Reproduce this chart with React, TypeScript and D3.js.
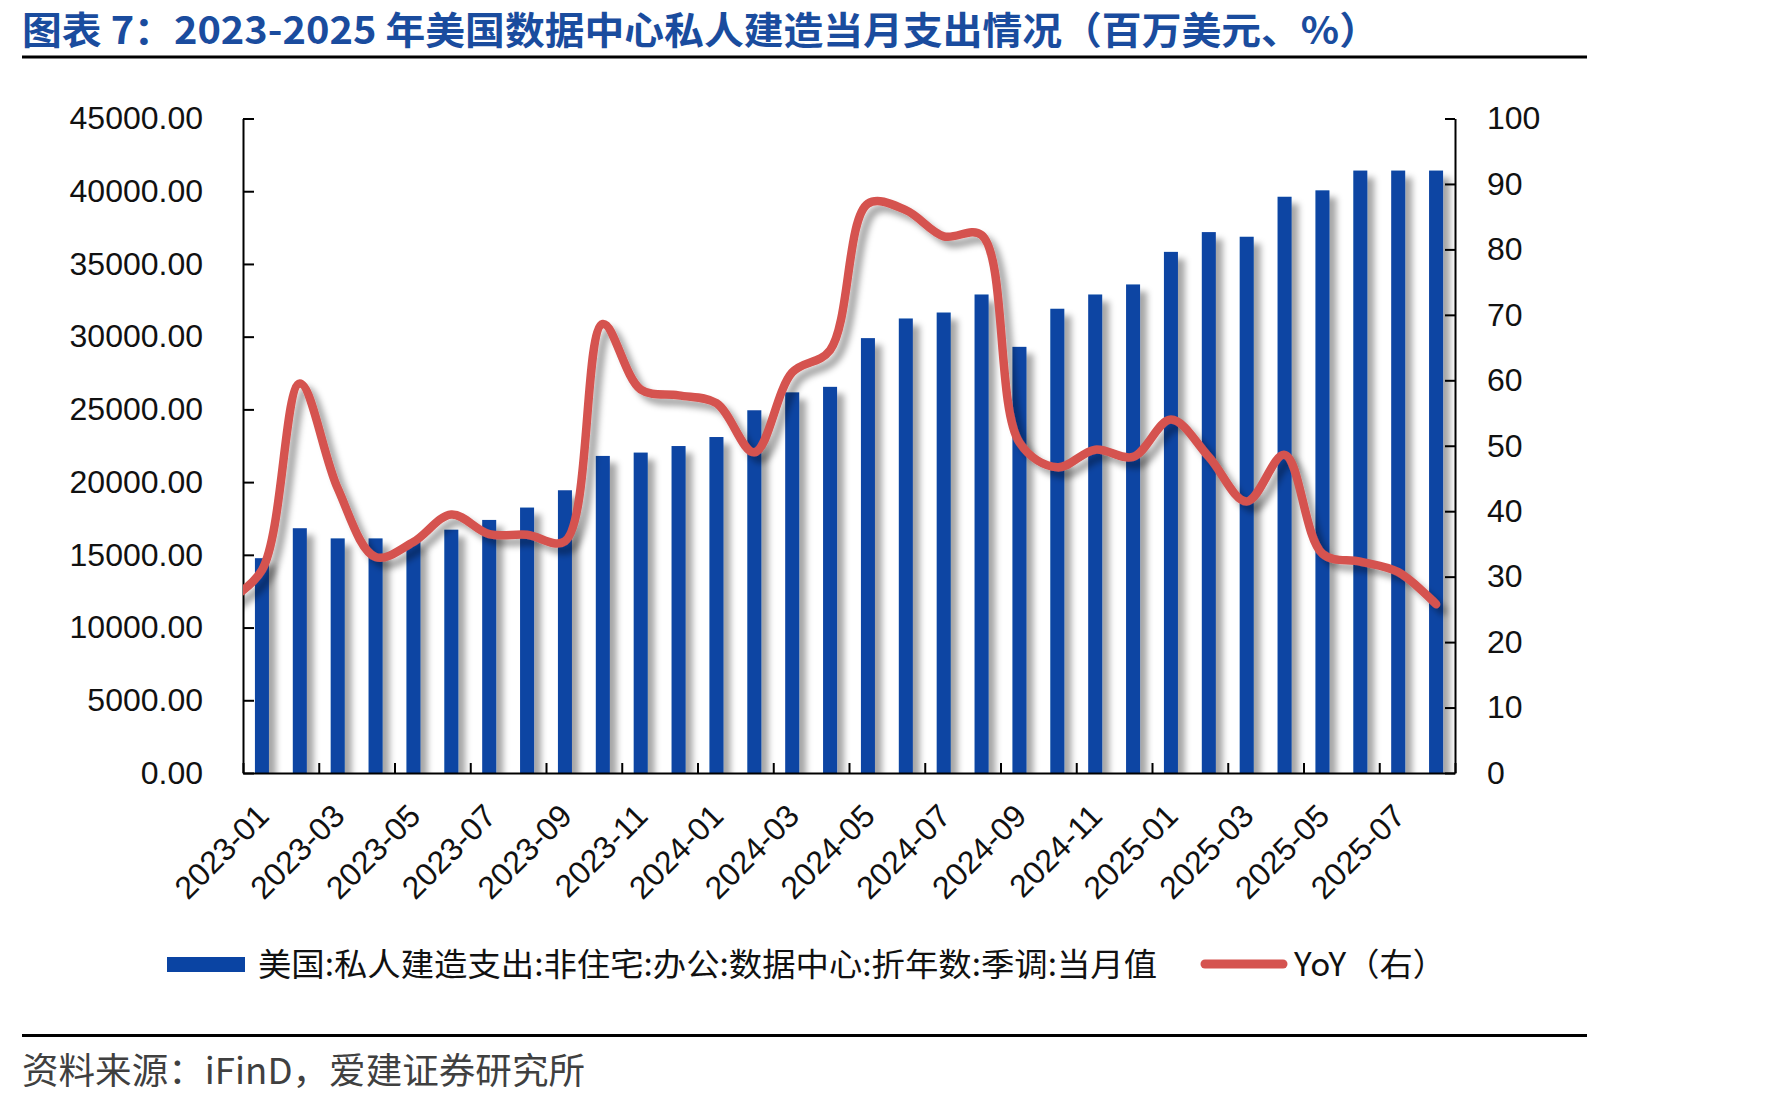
import React, { useEffect, useRef } from 'react';
import * as d3 from 'd3';

// Monthly categories, 2023-01 .. 2025-08
const months = [
  '2023-01', '2023-02', '2023-03', '2023-04', '2023-05', '2023-06', '2023-07', '2023-08',
  '2023-09', '2023-10', '2023-11', '2023-12', '2024-01', '2024-02', '2024-03', '2024-04',
  '2024-05', '2024-06', '2024-07', '2024-08', '2024-09', '2024-10', '2024-11', '2024-12',
  '2025-01', '2025-02', '2025-03', '2025-04', '2025-05', '2025-06', '2025-07', '2025-08',
];

// 数据中心私人建造支出，折年数，季调（百万美元）
const spending = [
  14770, 16830, 16130, 16130, 15900, 16730, 17400, 18250,
  19440, 21800, 22030, 22480, 23100, 24940, 26170, 26550,
  29900, 31250, 31660, 32900, 29300, 31920, 32900, 33590,
  35830, 37190, 36870, 39620, 40060, 41420, 41420, 41420,
];

// 同比（%）
const yoy = [
  31.0, 59.5, 43.5, 33.0, 35.3, 39.5, 36.5, 36.4,
  35.4, 68.6, 58.6, 57.7, 56.5, 49.0, 61.2, 64.6,
  87.0, 86.0, 82.0, 82.2, 50.5, 46.7, 49.4, 48.3,
  54.0, 48.3, 41.5, 48.6, 33.5, 32.3, 30.7, 25.8,
];
// 2022-12 YoY, only its tail enters the plot at the left edge
const yoyPrevMonth = 26.0;

const leftTicks = [0, 5000, 10000, 15000, 20000, 25000, 30000, 35000, 40000, 45000];
const rightTicks = [0, 10, 20, 30, 40, 50, 60, 70, 80, 90, 100];

const titleText = '图表 7：2023-2025 年美国数据中心私人建造当月支出情况（百万美元、%）';
const barSeriesName = '美国:私人建造支出:非住宅:办公:数据中心:折年数:季调:当月值';
const lineSeriesName = 'YoY（右）';
const sourceText = '资料来源：iFinD，爱建证券研究所';

const W = 1772;
const H = 1105;
const BLUE = '#0A44A3';
const RED = '#D5534F';
const NUM_FONT = '"Liberation Sans", Arial, sans-serif';
const CJK_FONT = '"Noto Sans CJK SC", "Noto Sans", sans-serif';

export default function App() {
  const svgRef = useRef<SVGSVGElement | null>(null);

  useEffect(() => {
    if (!svgRef.current) return;
    const svg = d3.select(svgRef.current);
    svg.selectAll('*').remove();

    const plot = { left: 243, right: 1455, top: 118.5, bottom: 773 };

    const x = d3
      .scaleBand()
      .domain(months)
      .range([plot.left, plot.right])
      .paddingInner(0.63)
      .paddingOuter(0.315);
    const step = x.step();
    const cx = (m: string) => x(m)! + x.bandwidth() / 2;

    const yL = d3.scaleLinear().domain([0, 45000]).range([plot.bottom, plot.top]);
    const yR = d3.scaleLinear().domain([0, 100]).range([plot.bottom, plot.top]);

    const defs = svg.append('defs');
    const f = defs
      .append('filter')
      .attr('id', 'shade')
      .attr('x', '-10%')
      .attr('y', '-10%')
      .attr('width', '130%')
      .attr('height', '130%');
    f.append('feDropShadow')
      .attr('dx', 7)
      .attr('dy', 7)
      .attr('stdDeviation', 3)
      .attr('flood-color', '#000')
      .attr('flood-opacity', 0.35);
    defs
      .append('clipPath')
      .attr('id', 'plotClip')
      .append('rect')
      .attr('x', plot.left)
      .attr('y', plot.top - 20)
      .attr('width', plot.right - plot.left)
      .attr('height', plot.bottom - plot.top + 20);

    svg.append('rect').attr('width', W).attr('height', H).attr('fill', '#fff');

    // title and rules
    svg
      .append('text')
      .attr('x', 22)
      .attr('y', 44)
      .attr('font-family', CJK_FONT)
      .attr('font-weight', 700)
      .attr('font-size', 38)
      .attr('fill', '#1A4C9E')
      .attr('textLength', 1357)
      .attr('lengthAdjust', 'spacingAndGlyphs')
      .text(titleText);
    svg.append('rect').attr('x', 22).attr('y', 55.5).attr('width', 1565).attr('height', 3).attr('fill', '#000');
    svg.append('rect').attr('x', 22).attr('y', 1034).attr('width', 1565).attr('height', 3).attr('fill', '#000');
    svg
      .append('text')
      .attr('x', 22)
      .attr('y', 1084)
      .attr('font-family', CJK_FONT)
      .attr('font-size', 36)
      .attr('fill', '#404040')
      .attr('textLength', 563)
      .attr('lengthAdjust', 'spacingAndGlyphs')
      .text(sourceText);

    // bars
    svg
      .append('g')
      .attr('clip-path', 'url(#plotClip)')
      .append('g')
      .attr('filter', 'url(#shade)')
      .selectAll('rect')
      .data(spending)
      .join('rect')
      .attr('x', (_, i) => x(months[i])!)
      .attr('y', d => yL(d))
      .attr('width', x.bandwidth())
      .attr('height', d => plot.bottom - yL(d))
      .attr('fill', BLUE);

    // axes
    const axisStyle = (g: d3.Selection<SVGGElement, unknown, null, undefined>) => {
      g.select('.domain').attr('stroke', '#000').attr('stroke-width', 2);
      g.selectAll('.tick line').attr('stroke', '#000').attr('stroke-width', 2);
      g.selectAll('.tick text')
        .attr('font-family', NUM_FONT)
        .attr('font-size', 32)
        .attr('fill', '#111');
    };

    svg
      .append('g')
      .attr('transform', `translate(${plot.left},0)`)
      .call(
        d3
          .axisLeft(yL)
          .tickValues(leftTicks)
          .tickSize(-11)
          .tickSizeOuter(0)
          .tickPadding(40)
          .tickFormat(d3.format('.2f'))
      )
      .call(axisStyle);

    svg
      .append('g')
      .attr('transform', `translate(${plot.right},0)`)
      .call(
        d3
          .axisRight(yR)
          .tickValues(rightTicks)
          .tickSize(-10)
          .tickSizeOuter(0)
          .tickPadding(32)
          .tickFormat(d3.format('d'))
      )
      .call(axisStyle);

    // category ticks sit on every second band boundary
    const xTicks = d3
      .scaleLinear()
      .domain([0, months.length])
      .range([plot.left, plot.right]);
    svg
      .append('g')
      .attr('transform', `translate(0,${plot.bottom})`)
      .call(
        d3
          .axisBottom(xTicks)
          .tickValues(d3.range(0, months.length + 1, 2))
          .tickSize(-10)
          .tickSizeOuter(0)
          .tickFormat(() => '')
      )
      .call(axisStyle);

    svg
      .append('g')
      .selectAll('text')
      .data(months.filter((_, i) => i % 2 === 0))
      .join('text')
      .attr('transform', d => `translate(${cx(d) + 9},818) rotate(-45)`)
      .attr('text-anchor', 'end')
      .attr('font-family', NUM_FONT)
      .attr('font-size', 32)
      .attr('fill', '#111')
      .text(d => d);

    // YoY line, smoothed, on the right axis
    const pts: [number, number][] = [
      [cx(months[0]) - step, yR(yoyPrevMonth)],
      ...yoy.map((v, i) => [cx(months[i]), yR(v)] as [number, number]),
    ];
    svg
      .append('g')
      .attr('clip-path', 'url(#plotClip)')
      .append('path')
      .attr('d', d3.line().curve(d3.curveCatmullRom.alpha(0.5))(pts))
      .attr('fill', 'none')
      .attr('stroke', RED)
      .attr('stroke-width', 8.5)
      .attr('stroke-linecap', 'round')
      .attr('stroke-linejoin', 'round')
      .attr('filter', 'url(#shade)');

    // legend
    const lg = svg.append('g');
    lg.append('rect').attr('x', 167).attr('y', 957).attr('width', 78).attr('height', 15).attr('fill', BLUE);
    lg.append('text')
      .attr('x', 258)
      .attr('y', 976)
      .attr('font-family', CJK_FONT)
      .attr('font-size', 32)
      .attr('fill', '#111')
      .attr('textLength', 899)
      .attr('lengthAdjust', 'spacingAndGlyphs')
      .text(barSeriesName);
    lg.append('line')
      .attr('x1', 1205)
      .attr('x2', 1283)
      .attr('y1', 964)
      .attr('y2', 964)
      .attr('stroke', RED)
      .attr('stroke-width', 9)
      .attr('stroke-linecap', 'round');
    lg.append('text')
      .attr('x', 1294)
      .attr('y', 976)
      .attr('font-family', CJK_FONT)
      .attr('font-size', 32)
      .attr('fill', '#111')
      .attr('textLength', 152)
      .attr('lengthAdjust', 'spacingAndGlyphs')
      .text(lineSeriesName);
  }, []);

  return (
    <div style={{ position: 'absolute', left: 0, top: 0, width: W, height: H }}>
      <svg ref={svgRef} width={W} height={H}></svg>
    </div>
  );
}
